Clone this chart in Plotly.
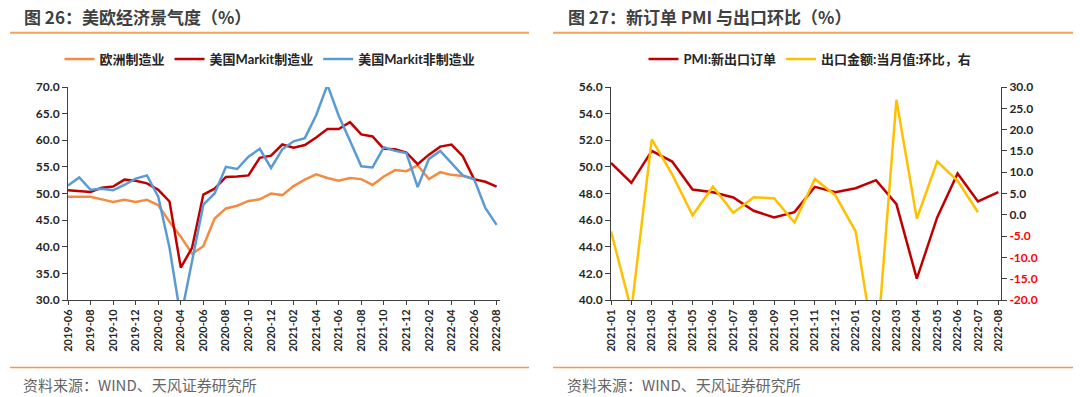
import plotly.graph_objects as go

# ---------------- data ----------------
months_left = ["2019-06", "2019-07", "2019-08", "2019-09", "2019-10", "2019-11", "2019-12",
               "2020-01", "2020-02", "2020-03", "2020-04", "2020-05", "2020-06", "2020-07",
               "2020-08", "2020-09", "2020-10", "2020-11", "2020-12", "2021-01", "2021-02",
               "2021-03", "2021-04", "2021-05", "2021-06", "2021-07", "2021-08", "2021-09",
               "2021-10", "2021-11", "2021-12", "2022-01", "2022-02", "2022-03", "2022-04",
               "2022-05", "2022-06", "2022-07", "2022-08"]
euro_mfg = [49.4, 49.4, 49.4, 48.9, 48.4, 48.8, 48.4, 48.8, 47.8, 44.7, 41.9, 38.7, 40.1,
            45.3, 47.2, 47.7, 48.6, 48.9, 50.0, 49.7, 51.4, 52.6, 53.6, 52.9, 52.4, 52.9,
            52.7, 51.6, 53.2, 54.4, 54.2, 55.3, 52.7, 54.0, 53.5, 53.3, 52.7, None, None]
us_mfg = [50.6, 50.4, 50.3, 51.1, 51.3, 52.6, 52.4, 51.9, 50.7, 48.5, 36.1, 39.8, 49.8,
          50.9, 53.1, 53.2, 53.4, 56.7, 57.1, 59.2, 58.6, 59.1, 60.5, 62.1, 62.1, 63.4,
          61.1, 60.7, 58.4, 58.3, 57.7, 55.5, 57.3, 58.8, 59.2, 57.0, 52.7, 52.2, 51.3]
us_serv = [51.5, 53.0, 50.7, 50.9, 50.6, 51.6, 52.8, 53.4, 49.4, 39.8, 26.7, 37.5, 47.9,
           50.0, 55.0, 54.6, 56.9, 58.4, 54.8, 58.3, 59.8, 60.4, 64.7, 70.4, 64.6, 59.9,
           55.1, 54.9, 58.7, 58.0, 57.6, 51.2, 56.5, 58.0, 55.6, 53.4, 52.7, 47.3, 44.1]
left_ticks = months_left[::2]

months_right = ["2021-01", "2021-02", "2021-03", "2021-04", "2021-05", "2021-06", "2021-07",
                "2021-08", "2021-09", "2021-10", "2021-11", "2021-12", "2022-01", "2022-02",
                "2022-03", "2022-04", "2022-05", "2022-06", "2022-07", "2022-08"]
pmi_export = [50.3, 48.8, 51.2, 50.4, 48.3, 48.1, 47.7, 46.7, 46.2, 46.6, 48.5, 48.1,
              48.4, 49.0, 47.2, 41.6, 46.2, 49.5, 47.4, 48.1]
export_mom = [-3.9, -22.4, 17.7, 9.5, -0.1, 6.6, 0.5, 4.1, 3.9, -1.8, 8.4, 4.6,
              -3.9, -33.6, 27.0, -0.9, 12.5, 8.0, 0.6, None]
right_ticks_vals = [-20, -15, -10, -5, 0, 5, 10, 15, 20, 25, 30]

# ---------------- styles ----------------
C_ORANGE = "#F58B40"
C_RED = "#C00000"
C_BLUE = "#5B9BD5"
C_YELLOW = "#FFC000"
AX = "#404040"
TXT = "#262626"
FONT = "Lato, 'Noto Sans CJK SC', sans-serif"
CJK = "'Noto Sans CJK SC', sans-serif"
W, H = 1080, 397


def px_x(v):
    return v / W


def px_y(v):
    return 1 - v / H


tickfont = dict(family=FONT, size=12, color=TXT, weight="bold")
xtickfont = dict(family=FONT, size=11, color=TXT, weight="bold")

fig = go.Figure()
fig.add_trace(go.Scatter(x=months_left, y=euro_mfg, name="欧洲制造业", mode="lines",
                         line=dict(color=C_ORANGE, width=2.5), xaxis="x", yaxis="y",
                         legend="legend"))
fig.add_trace(go.Scatter(x=months_left, y=us_mfg, name="美国Markit制造业", mode="lines",
                         line=dict(color=C_RED, width=2.5), xaxis="x", yaxis="y",
                         legend="legend"))
fig.add_trace(go.Scatter(x=months_left, y=us_serv, name="美国Markit非制造业", mode="lines",
                         line=dict(color=C_BLUE, width=2.5), xaxis="x", yaxis="y",
                         legend="legend"))
fig.add_trace(go.Scatter(x=months_right, y=pmi_export, name="PMI:新出口订单", mode="lines",
                         line=dict(color=C_RED, width=2.5), xaxis="x2", yaxis="y2",
                         legend="legend2"))
fig.add_trace(go.Scatter(x=months_right, y=export_mom, name="出口金额:当月值:环比，右",
                         mode="lines", line=dict(color=C_YELLOW, width=2.5),
                         xaxis="x2", yaxis="y3", legend="legend2"))

ydom = [px_y(300), px_y(87)]
common_axis = dict(showline=True, linecolor=AX, linewidth=1, ticks="outside",
                   tickcolor=AX, showgrid=False, zeroline=False, automargin=False)

right_text = []
for v in right_ticks_vals:
    s = f"{v:.1f}"
    if v < 0:
        s = f'<span style="color:#FF0000">{s}</span>'
    right_text.append(s)

fig.update_layout(
    template="none",
    width=W, height=H, autosize=False,
    margin=dict(l=0, r=0, t=0, b=0, pad=0),
    paper_bgcolor="white", plot_bgcolor="white",
    xaxis=dict(domain=[px_x(68), px_x(500)], anchor="y", type="category",
               range=[0, 38.3], tickmode="array", tickvals=left_ticks,
               ticktext=left_ticks, tickangle=-90, ticklen=4, tickfont=xtickfont,
               **common_axis),
    yaxis=dict(domain=ydom, anchor="x", range=[30, 70], dtick=5, tick0=30,
               tickformat=".1f", ticklen=5, tickfont=tickfont, **common_axis),
    xaxis2=dict(domain=[px_x(611), px_x(1001)], anchor="y2", type="category",
                range=[0, 19.13], tickmode="array", tickvals=months_right,
                ticktext=months_right, tickangle=-90, ticklen=4, tickfont=xtickfont,
                **common_axis),
    yaxis2=dict(domain=ydom, anchor="x2", range=[40, 56], dtick=2, tick0=40,
                tickformat=".1f", ticklen=5, tickfont=tickfont, **common_axis),
    yaxis3=dict(overlaying="y2", anchor="x2", side="right", range=[-20, 30],
                tickmode="array", tickvals=right_ticks_vals, ticktext=right_text,
                ticklen=5, tickfont=tickfont, **common_axis),
    legend=dict(orientation="h", x=px_x(270), y=px_y(59), xanchor="center",
                yanchor="middle", bgcolor="rgba(0,0,0,0)",
                font=dict(family=FONT, size=13, color=TXT, weight="bold")),
    legend2=dict(orientation="h", x=px_x(810), y=px_y(59), xanchor="center",
                 yanchor="middle", bgcolor="rgba(0,0,0,0)",
                 font=dict(family=FONT, size=13, color=TXT, weight="bold")),
)

# header / footer rules
for x0, x1 in [(10, 529), (553, 1073)]:
    fig.add_shape(type="line", xref="paper", yref="paper", x0=px_x(x0), x1=px_x(x1),
                  y0=px_y(32.8), y1=px_y(32.8), line=dict(color="#F4A15A", width=2))
    fig.add_shape(type="line", xref="paper", yref="paper", x0=px_x(x0), x1=px_x(x1),
                  y0=px_y(367.6), y1=px_y(367.6), line=dict(color="#F39A4C", width=1.5))

titles = [(22, "图 26：美欧经济景气度（%）"), (566, "图 27：新订单 PMI 与出口环比（%）")]
for x, t in titles:
    fig.add_annotation(text=t, xref="paper", yref="paper", x=px_x(x), y=px_y(16.5),
                       xanchor="left", yanchor="middle", showarrow=False,
                       font=dict(family=CJK, size=17, color="#404040", weight="bold"))
for x in (21, 565):
    fig.add_annotation(text="资料来源：WIND、天风证券研究所", xref="paper", yref="paper",
                       x=px_x(x), y=px_y(384.5), xanchor="left", yanchor="middle",
                       showarrow=False,
                       font=dict(family=CJK, size=15, color="#666666"))

fig.write_html("out.html", config={"displayModeBar": False},
               post_script="document.body.style.margin='0';document.body.style.overflow='hidden';")
